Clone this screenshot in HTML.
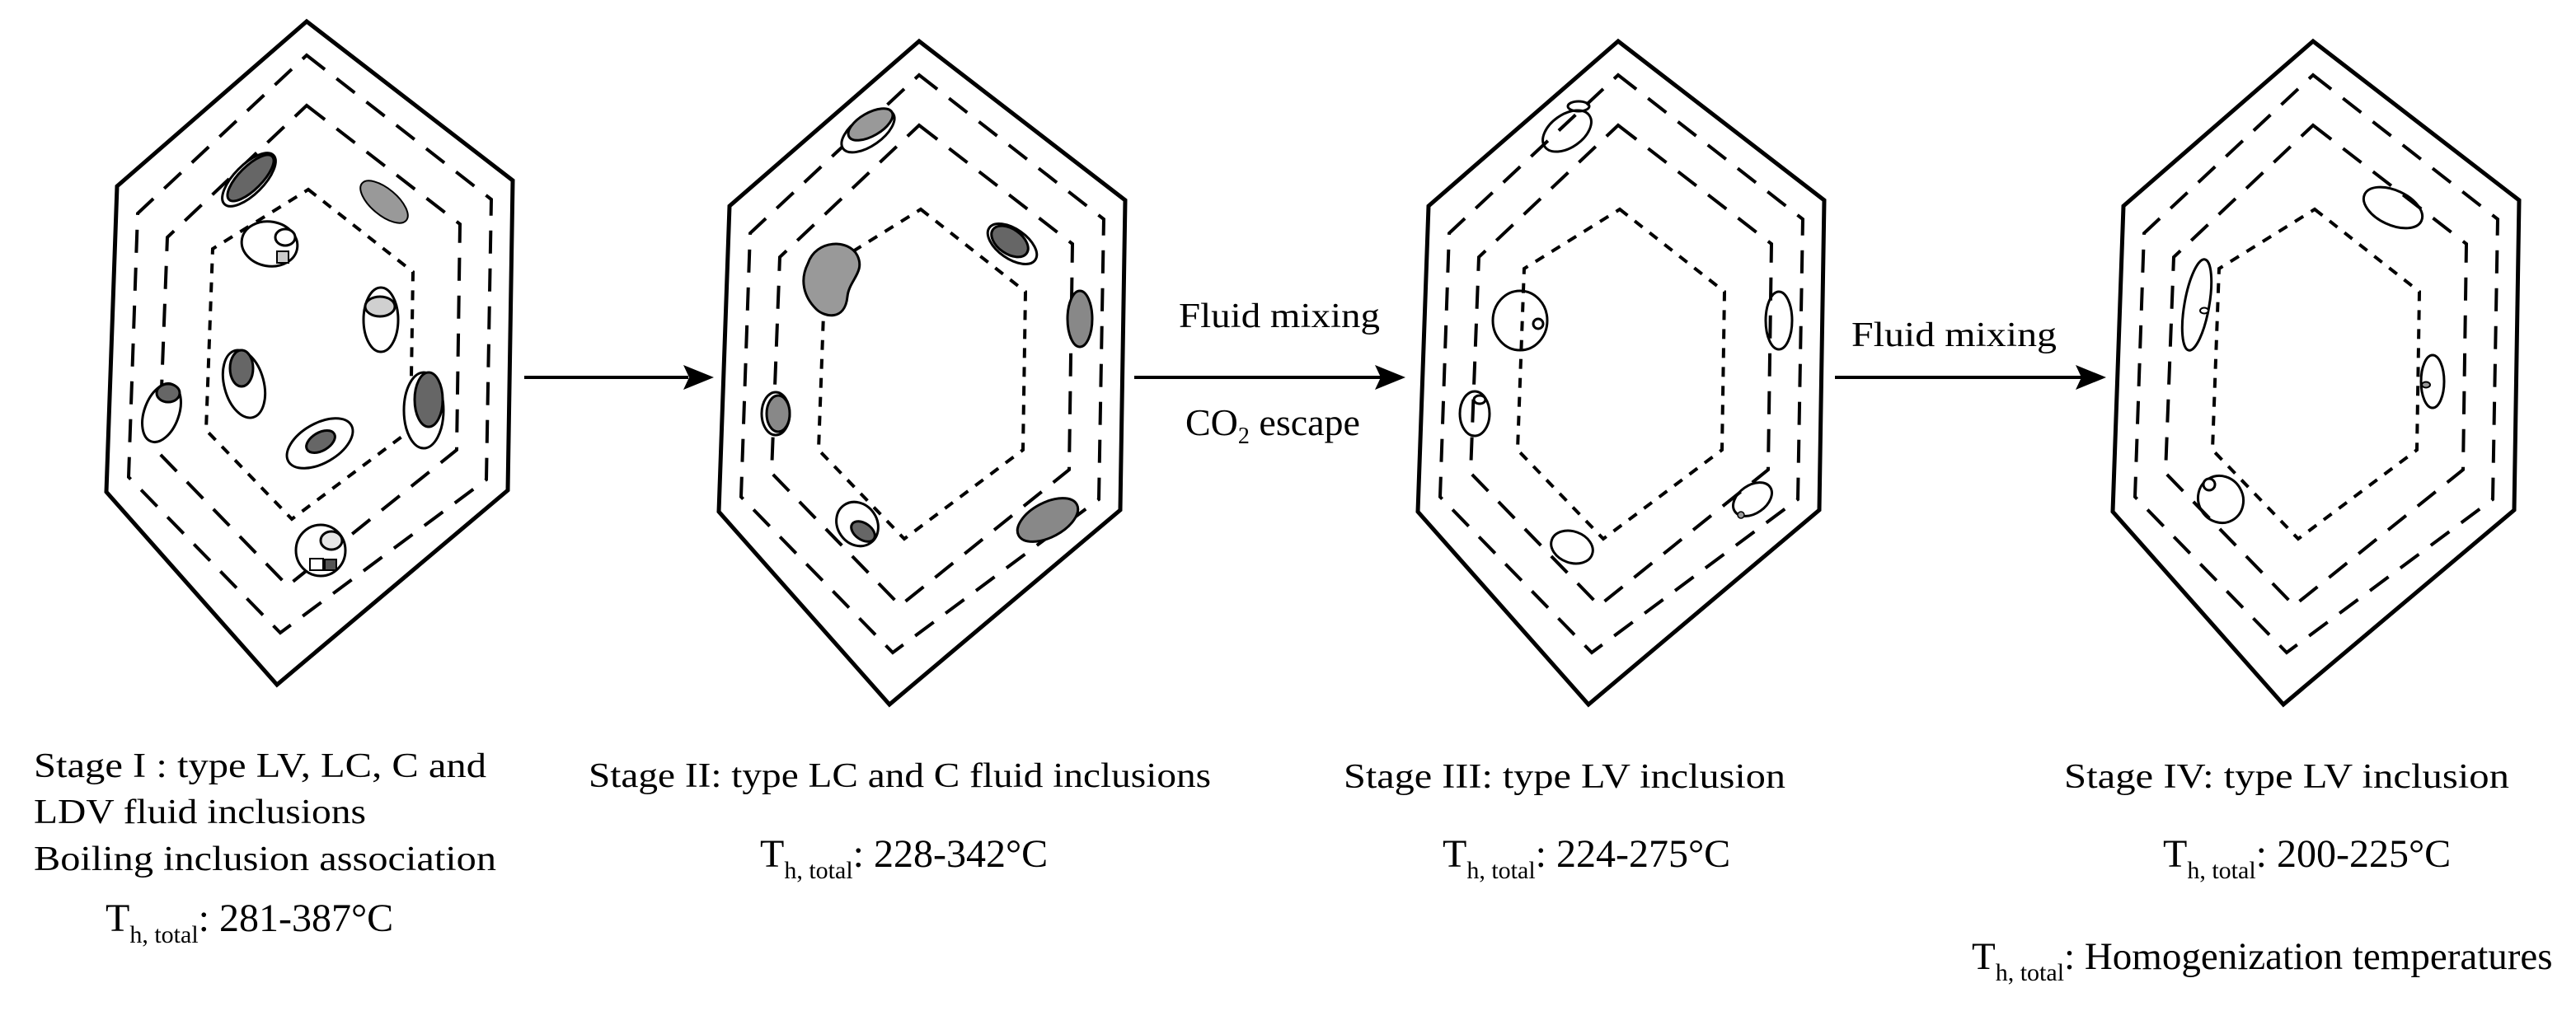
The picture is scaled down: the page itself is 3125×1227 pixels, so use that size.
<!DOCTYPE html>
<html><head><meta charset="utf-8"><style>
html,body{margin:0;padding:0;background:#fff;}
svg{display:block;}
text{font-family:"Liberation Serif",serif;fill:#000;}
</style></head><body>
<svg width="3125" height="1227" viewBox="0 0 3125 1227" xmlns="http://www.w3.org/2000/svg">
<defs>
<g id="hex">
<polygon points="0,0 250,193 244,569 -36,805 -243,571 -230,200" fill="none" stroke="#000" stroke-width="5" stroke-linejoin="miter"/>
<polygon points="0,41 224,216 218,556 -32,742 -216,553 -205,233" fill="none" stroke="#000" stroke-width="4" stroke-dasharray="28,18"/>
<polygon points="0,102 186,246 182,520 -23,685 -179,524 -169,262" fill="none" stroke="#000" stroke-width="4" stroke-dasharray="28,18"/>
<polygon points="2,204 129,304 126,496 -18,604 -122,496 -114,276" fill="none" stroke="#000" stroke-width="4" stroke-dasharray="12,11"/>
</g>
</defs>
<use href="#hex" x="372" y="26"/>
<use href="#hex" x="1115" y="50"/>
<use href="#hex" x="1963" y="50"/>
<use href="#hex" x="2806" y="50"/>

<g stroke="#000" stroke-width="3">
<ellipse cx="302" cy="218" rx="42" ry="18" transform="rotate(-45 302 218)" fill="#fff"/>
<ellipse cx="304" cy="216" rx="37" ry="14" transform="rotate(-45 304 216)" fill="#666"/>
<ellipse cx="466" cy="245" rx="35" ry="16" transform="rotate(40 466 245)" fill="#999" stroke-width="2"/>
<ellipse cx="327" cy="296" rx="34" ry="27" transform="rotate(10 327 296)" fill="#fff"/>
<ellipse cx="346" cy="288" rx="12" ry="10" fill="#fff"/>
<rect x="336" y="305" width="14" height="14" fill="#ccc" stroke-width="2"/>
<ellipse cx="462" cy="388" rx="21" ry="39" fill="#fff"/>
<ellipse cx="461" cy="372" rx="18" ry="12" fill="#d0d0d0"/>
<ellipse cx="296" cy="466" rx="24" ry="42" transform="rotate(-15 296 466)" fill="#fff"/>
<ellipse cx="293" cy="447" rx="14" ry="22" fill="#666"/>
<ellipse cx="388" cy="538" rx="44" ry="24" transform="rotate(-30 388 538)" fill="#fff"/>
<ellipse cx="389" cy="536" rx="19" ry="11" transform="rotate(-30 389 536)" fill="#666"/>
<ellipse cx="514" cy="498" rx="24" ry="46" fill="#fff"/>
<ellipse cx="520" cy="485" rx="17" ry="33" fill="#666"/>
<ellipse cx="196" cy="501" rx="21" ry="37" transform="rotate(20 196 501)" fill="#fff"/>
<ellipse cx="204" cy="477" rx="14" ry="11" fill="#666"/>
<ellipse cx="389" cy="668" rx="30" ry="31" fill="#fff"/>
<ellipse cx="402" cy="656" rx="13" ry="11" fill="#e5e5e5"/>
<rect x="376" y="678" width="16" height="14" fill="#fff" stroke-width="2"/>
<rect x="394" y="679" width="14" height="13" fill="#555" stroke-width="2"/>

<ellipse cx="1053" cy="159" rx="37" ry="18" transform="rotate(-35 1053 159)" fill="#fff"/>
<ellipse cx="1056" cy="151" rx="30" ry="14" transform="rotate(-30 1056 151)" fill="#999"/>
<path d="M980,320 C990,290 1030,290 1040,310 C1050,330 1030,340 1028,360 C1025,390 1000,385 990,375 C975,360 970,340 980,320 Z" fill="#999"/>
<ellipse cx="1228" cy="296" rx="34" ry="18" transform="rotate(35 1228 296)" fill="#fff"/>
<ellipse cx="1225" cy="293" rx="25" ry="15" transform="rotate(35 1225 293)" fill="#666"/>
<ellipse cx="1310" cy="387" rx="15" ry="34" fill="#888"/>
<ellipse cx="941" cy="502" rx="17" ry="26" fill="#fff"/>
<ellipse cx="944" cy="502" rx="14" ry="22" fill="#888"/>
<ellipse cx="1040" cy="636" rx="24" ry="28" transform="rotate(-35 1040 636)" fill="#fff"/>
<ellipse cx="1047" cy="645" rx="16" ry="10" transform="rotate(35 1047 645)" fill="#666"/>
<ellipse cx="1271" cy="631" rx="40" ry="21" transform="rotate(-28 1271 631)" fill="#888"/>

<ellipse cx="1901" cy="159" rx="33" ry="20" transform="rotate(-35 1901 159)" fill="none"/>
<ellipse cx="1915" cy="129" rx="13" ry="6" fill="none"/>
<ellipse cx="1844" cy="389" rx="33" ry="36" fill="none"/>
<circle cx="1866" cy="393" r="6" fill="#fff"/>
<ellipse cx="2158" cy="389" rx="16" ry="35" fill="none"/>
<ellipse cx="1789" cy="502" rx="18" ry="27" fill="none"/>
<ellipse cx="1795" cy="485" rx="7" ry="5" fill="#fff"/>
<ellipse cx="1907" cy="664" rx="26" ry="19" transform="rotate(20 1907 664)" fill="none"/>
<ellipse cx="2126" cy="606" rx="26" ry="17" transform="rotate(-35 2126 606)" fill="none"/>
<circle cx="2112" cy="625" r="4" fill="#999" stroke-width="1.5"/>

<ellipse cx="2903" cy="252" rx="38" ry="21" transform="rotate(25 2903 252)" fill="none"/>
<ellipse cx="2665" cy="370" rx="15" ry="56" transform="rotate(10 2665 370)" fill="none"/>
<ellipse cx="2674" cy="377" rx="5" ry="3.5" fill="#fff" stroke-width="2"/>
<ellipse cx="2951" cy="463" rx="14" ry="32" fill="none"/>
<ellipse cx="2943" cy="467" rx="5" ry="3.5" fill="#999" stroke-width="2"/>
<ellipse cx="2694" cy="606" rx="27" ry="29" transform="rotate(-30 2694 606)" fill="none"/>
<circle cx="2680" cy="588" r="7" fill="#fff"/>
</g>

<g stroke="#000" stroke-width="4">
<line x1="636" y1="458" x2="835" y2="458"/>
<line x1="1376" y1="458" x2="1675" y2="458"/>
<line x1="2226" y1="458" x2="2525" y2="458"/>
</g>
<g fill="#000">
<polygon points="866,458 829,443 836,458 829,473"/>
<polygon points="1705,458 1668,443 1675,458 1668,473"/>
<polygon points="2555,458 2518,443 2525,458 2518,473"/>
</g>

<g font-size="42">
<text x="1430" y="397" textLength="244" lengthAdjust="spacingAndGlyphs">Fluid mixing</text>
<text x="1438" y="528" font-size="46">CO<tspan font-size="28" dy="10">2</tspan><tspan dy="-10"> escape</tspan></text>
<text x="2246" y="420" textLength="249" lengthAdjust="spacingAndGlyphs">Fluid mixing</text>

<text x="41" y="943" textLength="549" lengthAdjust="spacingAndGlyphs">Stage I : type LV, LC, C and</text>
<text x="41" y="999" textLength="403" lengthAdjust="spacingAndGlyphs">LDV fluid inclusions</text>
<text x="41" y="1056" textLength="561" lengthAdjust="spacingAndGlyphs">Boiling inclusion  association</text>
<g font-size="48">
<text x="128" y="1130">T<tspan font-size="30" dy="14">h, total</tspan><tspan dy="-14">: 281-387°C</tspan></text>
<text x="922" y="1052">T<tspan font-size="30" dy="14">h, total</tspan><tspan dy="-14">: 228-342°C</tspan></text>
<text x="1750" y="1052">T<tspan font-size="30" dy="14">h, total</tspan><tspan dy="-14">: 224-275°C</tspan></text>
<text x="2624" y="1052">T<tspan font-size="30" dy="14">h, total</tspan><tspan dy="-14">: 200-225°C</tspan></text>
<text x="2392" y="1176" font-size="47">T<tspan font-size="30" dy="14">h, total</tspan><tspan dy="-14">: Homogenization temperatures</tspan></text>
</g>

<text x="714" y="955" textLength="755" lengthAdjust="spacingAndGlyphs">Stage II: type LC and C fluid inclusions</text>
<text x="1630" y="956" textLength="536" lengthAdjust="spacingAndGlyphs">Stage III: type LV inclusion</text>
<text x="2504" y="956" textLength="540" lengthAdjust="spacingAndGlyphs">Stage IV: type LV inclusion</text>
</g>
</svg>
</body></html>
